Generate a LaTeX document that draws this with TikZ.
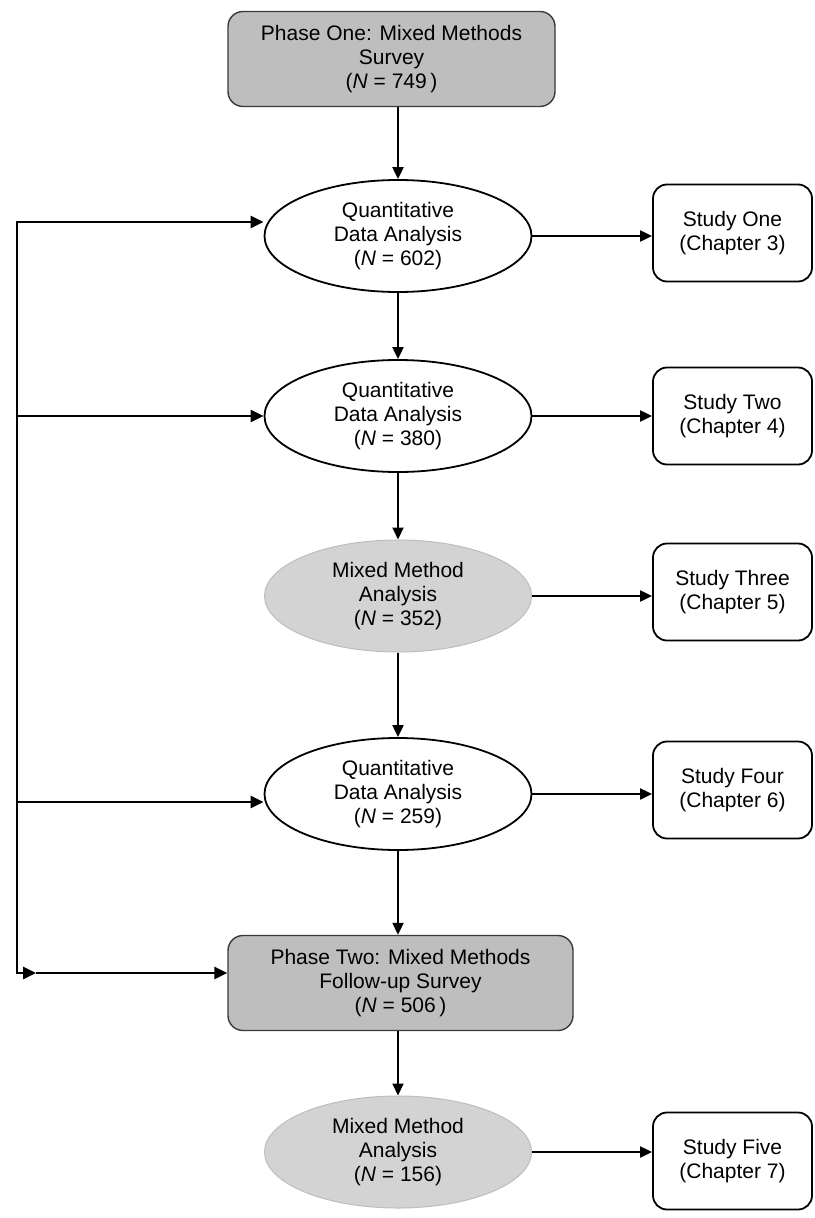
\documentclass[tikz,border=0pt]{standalone}
\usepackage{fontspec}
\setmainfont{Liberation Sans}
\usetikzlibrary{shapes.geometric,arrows.meta}
\definecolor{phasefill}{HTML}{BEBEBE}
\definecolor{phaseedge}{HTML}{3A3A3A}
\definecolor{mixfill}{HTML}{D3D3D3}
\definecolor{mixedge}{HTML}{BDBDBD}

\begin{document}
\begin{tikzpicture}[x=1pt,y=-1pt,
  every node/.style={font=\fontsize{21}{24}\selectfont, align=center, inner sep=0pt},
  phasebox/.style={draw=phaseedge, line width=1.4pt, fill=phasefill, rounded corners=15pt, minimum height=95pt},
  quantell/.style={ellipse, draw=black, line width=1.8pt, fill=white, minimum width=267pt, minimum height=112pt},
  mixell/.style={ellipse, draw=mixedge, line width=1pt, fill=mixfill, minimum width=267pt, minimum height=112pt},
  studybox/.style={draw=black, line width=1.8pt, fill=white, rounded corners=14pt, minimum width=159pt, minimum height=97pt},
  arr/.style={line width=2pt, -{Triangle[length=12pt,width=11pt]}},
  busarr/.style={line width=2.8pt, -{Triangle[length=13pt,width=12pt]}}
]
\useasboundingbox (0,0) rectangle (814,1218);

% main column
\node[phasebox, minimum width=327pt] (p1) at (391.5,59)
  {Phase One: Mixed Methods\\Survey\\(\textit{N} = 749\,)};
\node[quantell] (e1) at (398,236) {Quantitative\\Data Analysis\\(\textit{N} = 602)};
\node[quantell] (e2) at (398,416) {Quantitative\\Data Analysis\\(\textit{N} = 380)};
\node[mixell] (e3) at (398,596) {Mixed Method\\Analysis\\(\textit{N} = 352)};
\node[quantell] (e4) at (398,794) {Quantitative\\Data Analysis\\(\textit{N} = 259)};
\node[phasebox, minimum width=345pt] (p2) at (400.5,983)
  {Phase Two: Mixed Methods\\Follow-up Survey\\(\textit{N} = 506\,)};
\node[mixell] (e5) at (398,1152) {Mixed Method\\Analysis\\(\textit{N} = 156)};

% study boxes
\node[studybox] (b1) at (732.5,233) {Study One\\(Chapter 3)};
\node[studybox] (b2) at (732.5,416) {Study Two\\(Chapter 4)};
\node[studybox] (b3) at (732.5,592) {Study Three\\(Chapter 5)};
\node[studybox] (b4) at (732.5,790) {Study Four\\(Chapter 6)};
\node[studybox] (b5) at (732.5,1161) {Study Five\\(Chapter 7)};

% vertical flow
\draw[arr] (p1.south -| e1.north) -- (e1.north);
\draw[arr] (e1.south) -- (e2.north);
\draw[arr] (e2.south) -- (e3.north);
\draw[arr] (e3.south) -- (e4.north);
\draw[arr] (e4.south) -- (e4.south |- p2.north);
\draw[arr] (e5.north |- p2.south) -- (e5.north);

% to the studies
\draw[arr] (e1.east) -- (e1.east -| b1.west);
\draw[arr] (e2.east) -- (e2.east -| b2.west);
\draw[arr] (e3.east) -- (e3.east -| b3.west);
\draw[arr] (e4.east) -- (e4.east -| b4.west);
\draw[arr] (e5.east) -- (e5.east -| b5.west);

% feedback bus on the left
\coordinate (j1) at (17,222);
\coordinate (j2) at (17,416);
\coordinate (j4) at (17,802);
\coordinate (j5) at (17,973);
\coordinate (j5m) at (36,973);
\draw[busarr] (j5) -- (j1) -- (j1 -| e1.west);
\draw[busarr] (j1) -- (j5) -- (j5m);
\draw[busarr] (j2) -- (j2 -| e2.west);
\draw[busarr] (j4) -- (j4 -| e4.west);
\draw[busarr] (j5m) -- (j5 -| p2.west);
\end{tikzpicture}
\end{document}
